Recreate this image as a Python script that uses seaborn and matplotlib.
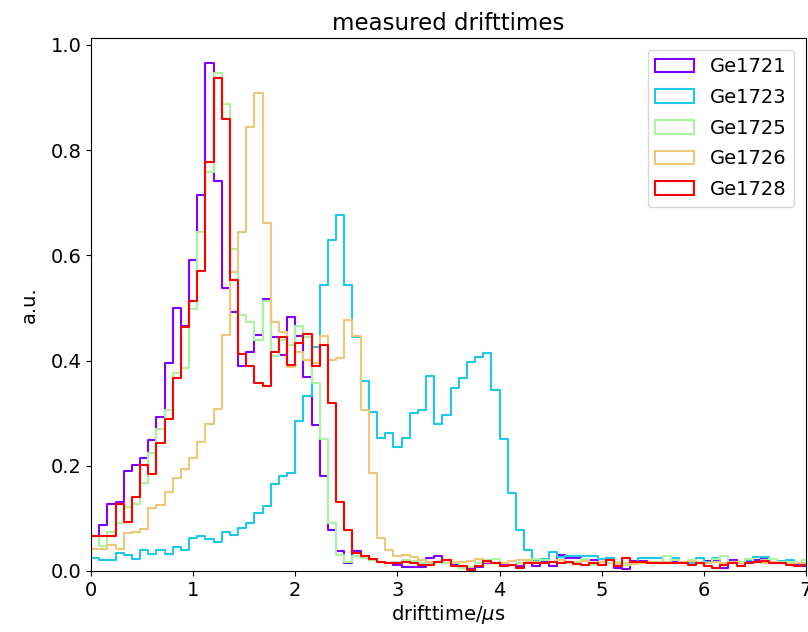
import numpy as np
import pandas as pd
import matplotlib
matplotlib.use("Agg")
import matplotlib.pyplot as plt
import seaborn as sns
from matplotlib.patches import Patch

# bin edges: width 0.08 us, from 0 to 7.04 us
bin_width = 0.08
n_bins = 88

detectors = ["Ge1721", "Ge1723", "Ge1725", "Ge1726", "Ge1728"]
colors = ["#8000ff", "#1ec8e8", "#a8f5a0", "#ecc878", "#ff0000"]

ge1721 = [0.066, 0.088, 0.127, 0.132, 0.191, 0.201, 0.215, 0.249, 0.292, 0.395, 0.500, 0.466, 0.592, 0.714, 0.965, 0.741, 0.538, 0.492, 0.390, 0.417, 0.448, 0.517, 0.445, 0.410, 0.482,
          0.447, 0.369, 0.278, 0.181, 0.078, 0.038, 0.015, 0.038, 0.028, 0.020, 0.018, 0.015, 0.012, 0.008, 0.008, 0.008,
          0.024, 0.028, 0.016, 0.012, 0.005, 0.005, 0.008, 0.016, 0.015, 0.013, 0.012, 0.010, 0.018, 0.009, 0.018,
          0.009, 0.031, 0.024, 0.024, 0.021, 0.021, 0.012, 0.024, 0.005, 0.004, 0.019, 0.019, 0.017, 0.017, 0.016, 0.017,
          0.018, 0.015, 0.015, 0.019, 0.019, 0.005, 0.021, 0.015, 0.018, 0.021, 0.024, 0.016, 0.018, 0.015, 0.013, 0.010]
ge1723 = [0.025, 0.020, 0.020, 0.034, 0.031, 0.022, 0.039, 0.032, 0.039, 0.033, 0.046, 0.039, 0.062, 0.066, 0.060, 0.055, 0.075, 0.069, 0.082, 0.092, 0.111, 0.124, 0.165, 0.181, 0.187,
          0.286, 0.333, 0.426, 0.544, 0.630, 0.676, 0.544, 0.444, 0.362, 0.303, 0.252, 0.263, 0.236, 0.252,
          0.300, 0.307, 0.371, 0.280, 0.297, 0.347, 0.366, 0.398, 0.407, 0.415, 0.344, 0.250, 0.149, 0.078, 0.040, 0.020, 0.022,
          0.037, 0.026, 0.028, 0.028, 0.028, 0.029, 0.022, 0.024, 0.015, 0.013, 0.018, 0.024, 0.024, 0.024, 0.017, 0.024,
          0.015, 0.016, 0.024, 0.017, 0.024, 0.013, 0.017, 0.018, 0.020, 0.026, 0.026, 0.017, 0.019, 0.020, 0.016, 0.012]
ge1725 = [0.066, 0.048, 0.075, 0.092, 0.121, 0.128, 0.167, 0.224, 0.270, 0.307, 0.376, 0.385, 0.499, 0.645, 0.759, 0.946, 0.887, 0.613, 0.487, 0.474, 0.439, 0.513, 0.409, 0.440, 0.430,
          0.466, 0.445, 0.358, 0.250, 0.091, 0.031, 0.018, 0.029, 0.024, 0.021, 0.018, 0.016, 0.018, 0.021, 0.019, 0.015,
          0.016, 0.018, 0.015, 0.015, 0.005, 0.008, 0.015, 0.021, 0.023, 0.015, 0.012, 0.016, 0.019, 0.023, 0.020,
          0.018, 0.020, 0.015, 0.018, 0.022, 0.012, 0.018, 0.015, 0.017, 0.012, 0.015, 0.018, 0.016, 0.018, 0.028, 0.020,
          0.015, 0.020, 0.018, 0.016, 0.022, 0.028, 0.015, 0.018, 0.022, 0.018, 0.020, 0.022, 0.017, 0.018, 0.015, 0.020]
ge1726 = [0.041, 0.041, 0.049, 0.041, 0.072, 0.074, 0.079, 0.120, 0.125, 0.151, 0.177, 0.193, 0.214, 0.246, 0.279, 0.308, 0.448, 0.569, 0.645, 0.844, 0.909, 0.662, 0.474, 0.455, 0.388,
          0.416, 0.401, 0.396, 0.447, 0.401, 0.404, 0.478, 0.447, 0.306, 0.187, 0.062, 0.039, 0.029, 0.030, 0.026, 0.021,
          0.018, 0.018, 0.020, 0.018, 0.017, 0.019, 0.022, 0.018, 0.015, 0.016, 0.019, 0.021, 0.021, 0.018, 0.016,
          0.017, 0.020, 0.018, 0.016, 0.019, 0.015, 0.018, 0.020, 0.014, 0.016, 0.013, 0.015, 0.018, 0.016, 0.017, 0.015,
          0.017, 0.019, 0.016, 0.015, 0.017, 0.016, 0.018, 0.015, 0.016, 0.018, 0.015, 0.017, 0.016, 0.014, 0.016, 0.015]
ge1728 = [0.066, 0.066, 0.066, 0.127, 0.094, 0.140, 0.202, 0.184, 0.243, 0.289, 0.367, 0.464, 0.514, 0.571, 0.778, 0.938, 0.860, 0.554, 0.413, 0.390, 0.358, 0.352, 0.416, 0.445, 0.392,
          0.434, 0.450, 0.390, 0.430, 0.320, 0.132, 0.077, 0.035, 0.028, 0.022, 0.018, 0.015, 0.015, 0.018, 0.015, 0.012,
          0.012, 0.018, 0.021, 0.010, 0.010, 0.002, 0.010, 0.019, 0.015, 0.010, 0.011, 0.006, 0.015, 0.015, 0.015,
          0.018, 0.015, 0.017, 0.013, 0.012, 0.015, 0.012, 0.021, 0.009, 0.024, 0.018, 0.018, 0.016, 0.015, 0.015, 0.015,
          0.016, 0.012, 0.015, 0.010, 0.005, 0.012, 0.015, 0.009, 0.015, 0.018, 0.019, 0.015, 0.016, 0.012, 0.010, 0.012]

series = [ge1721, ge1723, ge1725, ge1726, ge1728]

centers = (np.arange(n_bins) + 0.5) * bin_width

fig = plt.figure(figsize=(8.08, 6.32), dpi=100)
ax = fig.add_axes([91 / 808, 1 - 571 / 632, (806 - 91) / 808, (571 - 38) / 632])

for name, vals, col in zip(detectors, series, colors):
    df = pd.DataFrame({"t": centers, "w": vals})
    sns.histplot(data=df, x="t", weights="w", binwidth=bin_width,
                 binrange=(0, n_bins * bin_width), element="step",
                 fill=False, color=col, linewidth=1.5, ax=ax)

ax.set_xlim(0, 7)
ax.set_ylim(0, max(max(s) for s in series) * 1.05)
ax.set_xlabel(r"drifttime/$\mu$s", fontsize=14, labelpad=2)
ax.set_ylabel("a.u.", fontsize=14, labelpad=8)
ax.set_title("measured drifttimes", fontsize=16.5)
ax.tick_params(labelsize=14)
ax.set_yticks([0.0, 0.2, 0.4, 0.6, 0.8, 1.0])

handles = [Patch(facecolor="none", edgecolor=c, linewidth=1.5, label=n)
           for n, c in zip(detectors, colors)]
ax.legend(handles=handles, loc="upper right", fontsize=14, labelspacing=0.6,
          borderaxespad=0.6)

fig.savefig("out.png", dpi=100)
